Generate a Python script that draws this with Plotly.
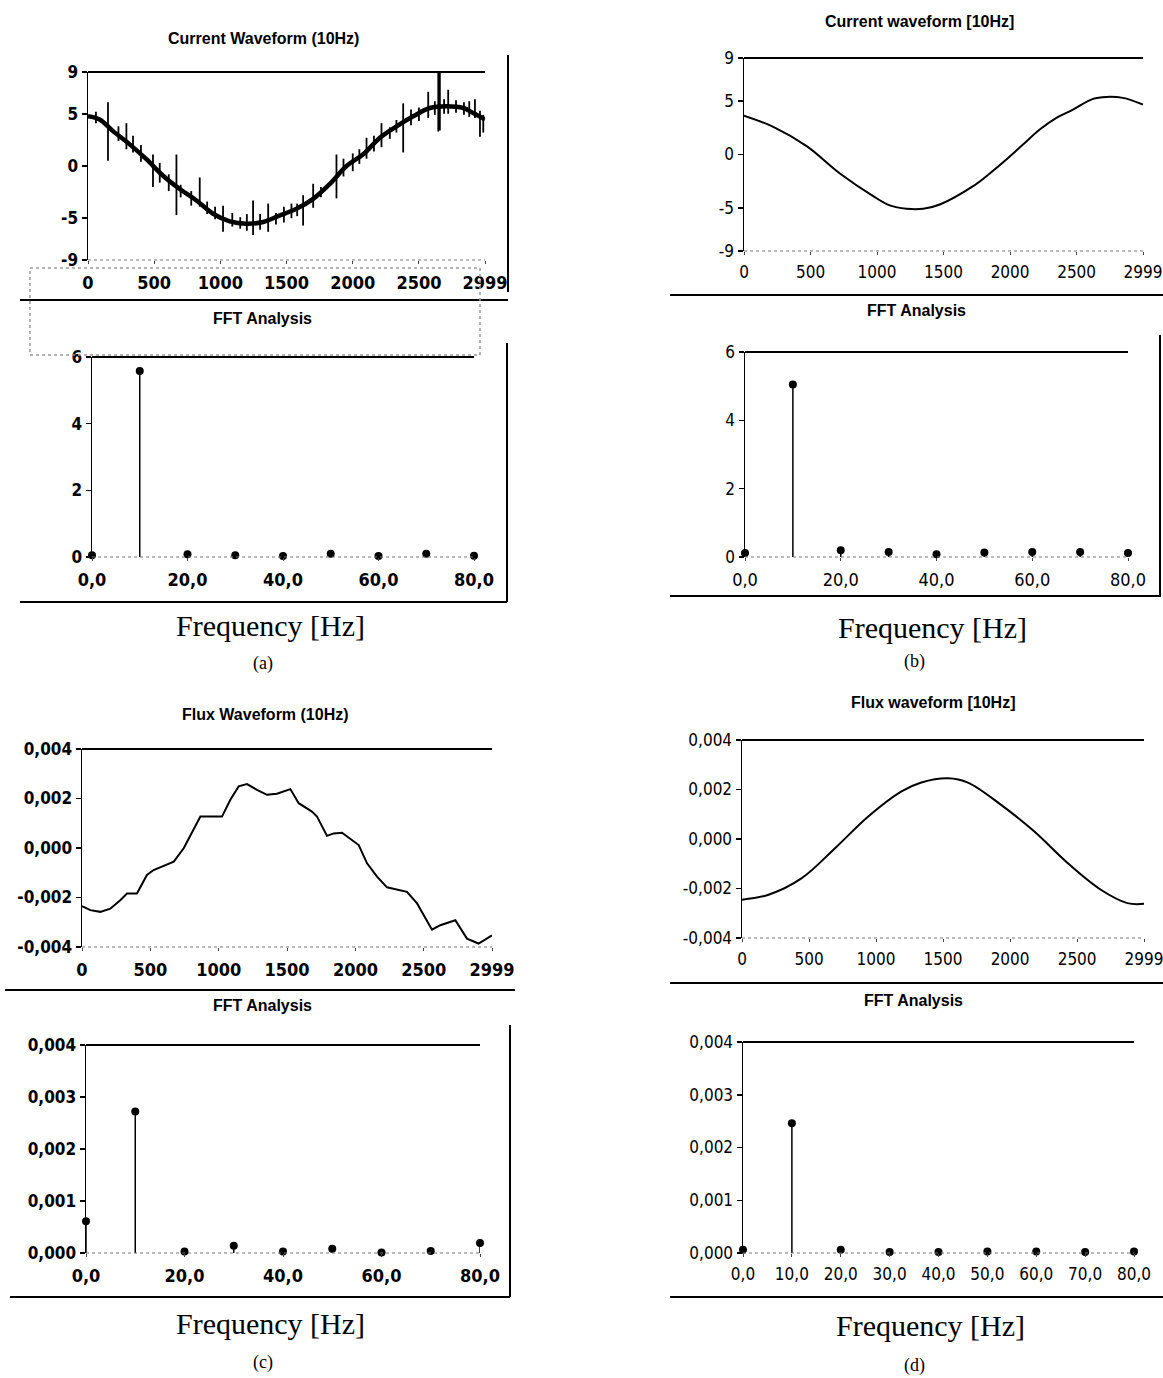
import plotly.graph_objects as go

W, H = 1163, 1378

# ---------------- data ----------------
# (a) measured current waveform: base curve + vertical noise spikes
a_wave_x = [0, 88, 189, 315, 441, 567, 693, 819, 945, 1071, 1197, 1323, 1449, 1575, 1701,
            1827, 1953, 2079, 2205, 2331, 2457, 2583, 2709, 2835, 2910, 2999]
a_wave_y = [4.76, 4.45, 3.34, 2.07, 0.65, -0.93, -2.2, -3.3, -4.57, -5.3, -5.52, -5.36, -4.73,
            -4.1, -3.15, -1.72, 0.0, 1.12, 2.7, 3.8, 4.76, 5.55, 5.71, 5.55, 5.07, 4.45]
a_spike_x = [60, 151, 230, 290, 340, 400, 491, 542, 610, 668, 700, 780, 844, 900, 960, 1020,
             1090, 1150, 1200, 1247, 1300, 1361, 1420, 1480, 1537, 1580, 1625, 1701, 1760,
             1877, 1930, 2000, 2050, 2104, 2160, 2217, 2280, 2330, 2381, 2440, 2500, 2570,
             2620, 2646, 2658, 2690, 2721, 2780, 2840, 2880, 2923, 2961, 2986]
a_spike_lo = [4.1, 0.5, 2.4, 1.6, 1.3, 0.4, -2.0, -1.6, -2.4, -4.7, -3.0, -3.8, -3.9, -4.6,
              -5.1, -6.3, -5.8, -6.0, -6.2, -6.6, -6.1, -6.3, -5.6, -5.4, -5.0, -4.8, -5.7,
              -4.0, -3.0, -3.1, -1.0, -0.5, 0.2, 0.7, 1.4, 1.8, 2.6, 3.2, 1.3, 3.9, 4.3, 4.6,
              4.9, 3.3, 3.4, 5.0, 5.0, 5.1, 4.9, 4.7, 4.6, 2.8, 3.2]
a_spike_hi = [5.2, 6.1, 3.8, 4.1, 2.9, 2.0, 1.1, 0.3, -0.8, 1.1, -1.8, -2.4, -1.1, -3.4, -3.9,
              -3.8, -4.5, -4.9, -4.6, -3.3, -4.6, -3.6, -4.5, -3.9, -3.6, -3.6, -2.8, -1.7,
              -2.0, 1.1, 0.7, 1.2, 1.6, 2.7, 2.9, 4.1, 3.7, 4.4, 6.0, 5.4, 5.6, 7.1, 6.2, 8.9,
              8.9, 6.4, 7.3, 6.3, 6.1, 6.2, 6.4, 5.3, 4.9]

# (b) simulated current waveform
b_wave_x = [0, 220, 471, 721, 971, 1096, 1222, 1347, 1472, 1722, 1847, 1972, 2097, 2223, 2348,
            2473, 2623, 2723, 2848, 2999]
b_wave_y = [3.63, 2.58, 0.78, -1.77, -3.88, -4.75, -5.06, -5.06, -4.66, -2.95, -1.77, -0.47,
            0.93, 2.33, 3.42, 4.19, 5.19, 5.37, 5.28, 4.66]

# (c) measured flux waveform
c_wave_x = [0, 61, 134, 207, 280, 329, 402, 475, 524, 671, 744, 817, 866, 1024, 1085, 1146, 1207,
            1280, 1353, 1426, 1524, 1585, 1682, 1719, 1792, 1841, 1902, 2024, 2085, 2158, 2231,
            2377, 2451, 2560, 2621, 2731, 2816, 2901, 2999]
c_wave_y = [-0.00235, -0.00251, -0.00258, -0.00245, -0.00211, -0.00184, -0.00184, -0.00109,
            -0.00089, -0.00055, -0.00001, 0.00073, 0.00127, 0.00127, 0.00195, 0.00249, 0.00258,
            0.00235, 0.00215, 0.00219, 0.00238, 0.00181, 0.00147, 0.00127, 0.00049, 0.00059,
            0.00062, 0.00012, -0.00062, -0.00116, -0.00159, -0.00177, -0.00224, -0.00330,
            -0.00312, -0.00292, -0.00366, -0.00386, -0.00353]

# (d) simulated flux waveform
d_wave_x = [0, 198, 446, 694, 942, 1190, 1338, 1537, 1685, 1933, 2181, 2429, 2677, 2875, 2999]
d_wave_y = [-0.00245, -0.00225, -0.00158, -0.00037, 0.00091, 0.00192, 0.00228, 0.00245,
            0.00228, 0.00138, 0.00030, -0.00097, -0.00205, -0.00259, -0.00262]

# FFT spectra
fft_freq = [0, 10, 20, 30, 40, 50, 60, 70, 80]
a_fft = [0.05, 5.58, 0.08, 0.05, 0.03, 0.10, 0.03, 0.10, 0.04]
b_fft = [0.12, 5.05, 0.20, 0.15, 0.08, 0.13, 0.15, 0.15, 0.12]
c_fft = [0.00061, 0.00272, 0.00003, 0.00014, 0.00003, 0.00008, 0.00001, 0.00004, 0.00019]
d_fft = [0.00006, 0.00246, 0.00006, 0.00002, 0.00002, 0.00003, 0.00003, 0.00002, 0.00003]

wave_ticks = [0, 500, 1000, 1500, 2000, 2500, 2999]
cur_yticks = [9, 5, 0, -5, -9]
cur_fft_yticks = [0, 2, 4, 6]
flux_yticks = [0.004, 0.002, 0.0, -0.002, -0.004]
flux_yticktext = ["0,004", "0,002", "0,000", "-0,002", "-0,004"]
flux_fft_yticks = [0.0, 0.001, 0.002, 0.003, 0.004]
flux_fft_yticktext = ["0,000", "0,001", "0,002", "0,003", "0,004"]
fft_ticks20 = [0, 20, 40, 60, 80]
fft_ticks10 = [0, 10, 20, 30, 40, 50, 60, 70, 80]

# ---------------- helpers ----------------
def X(px):
    return px / W

def Y(py):
    return 1 - py / H

def xn(i):
    return "x" if i == 1 else f"x{i}"

def yn(i):
    return "y" if i == 1 else f"y{i}"

TICKF = "Liberation Sans Narrow, Arial Narrow, DejaVu Sans Condensed, Liberation Sans, sans-serif"
TITLEF = "Liberation Sans, Arial, Helvetica, sans-serif"
SERIF = "Liberation Serif, Times New Roman, DejaVu Serif, serif"

fig = go.Figure()
layout = dict(width=W, height=H, autosize=False,
              margin=dict(l=0, r=0, t=0, b=0, pad=0, autoexpand=False), showlegend=False,
              plot_bgcolor="white", paper_bgcolor="white", hovermode=False)
shapes = []
annotations = []

def stems(freq, vals):
    xs, ys = [], []
    for f, v in zip(freq, vals):
        xs += [f, f, None]
        ys += [0, v, None]
    return xs, ys

def add_axes(i, xpx, ypx, xr, yr, xt, xtt, yt, ytt, bold, xsize=18):
    w = "bold" if bold else "normal"
    xk = "xaxis" if i == 1 else f"xaxis{i}"
    yk = "yaxis" if i == 1 else f"yaxis{i}"
    layout[xk] = dict(domain=[X(xpx[0]), X(xpx[1])], range=xr, anchor=yn(i), automargin=False,
                      showgrid=False, zeroline=False, showline=False,
                      tickmode="array", tickvals=xt, ticktext=xtt,
                      ticks="outside", ticklen=3, tickcolor="#444",
                      ticklabelstandoff=3, ticklabeloverflow="allow",
                      tickfont=dict(family=TICKF, size=xsize, color="black", weight=w))
    layout[yk] = dict(domain=[Y(ypx[1]), Y(ypx[0])], range=yr, anchor=xn(i), automargin=False,
                      showgrid=False, zeroline=False, showline=True,
                      linecolor="black", linewidth=1.5,
                      tickmode="array", tickvals=yt, ticktext=ytt,
                      ticks="outside", ticklen=5, tickwidth=1.5, tickcolor="black",
                      ticklabeloverflow="allow",
                      tickfont=dict(family=TICKF, size=17, color="black", weight=w))
    shapes.append(dict(type="line", xref=f"{xn(i)} domain", yref=f"{yn(i)} domain",
                       x0=0, x1=1, y0=1, y1=1, line=dict(color="black", width=2)))
    shapes.append(dict(type="line", xref=f"{xn(i)} domain", yref=f"{yn(i)} domain",
                       x0=0, x1=1, y0=0, y1=0, line=dict(color="#777", width=1, dash="dot")))

def title(text, x, y, size=16):
    annotations.append(dict(text=f"<b>{text}</b>", x=X(x), y=Y(y), xref="paper", yref="paper",
                            showarrow=False, xanchor="center", yanchor="middle",
                            font=dict(family=TITLEF, size=size, color="black")))

def caption(text, x, y, size):
    annotations.append(dict(text=text, x=X(x), y=Y(y), xref="paper", yref="paper",
                            showarrow=False, xanchor="center", yanchor="middle",
                            font=dict(family=SERIF, size=size, color="black")))

def hline(x0, x1, y, width=2, color="black", dash="solid"):
    shapes.append(dict(type="line", xref="paper", yref="paper", x0=X(x0), x1=X(x1),
                       y0=Y(y), y1=Y(y), line=dict(color=color, width=width, dash=dash)))

def vline(x, y0, y1, width=2, color="black", dash="solid"):
    shapes.append(dict(type="line", xref="paper", yref="paper", x0=X(x), x1=X(x),
                       y0=Y(y0), y1=Y(y1), line=dict(color=color, width=width, dash=dash)))

def add_line(i, x, y, width, shape="linear"):
    fig.add_trace(go.Scatter(x=x, y=y, mode="lines", xaxis=xn(i), yaxis=yn(i),
                             line=dict(color="black", width=width, shape=shape)))

def add_fft(i, vals):
    xs, ys = stems(fft_freq, vals)
    add_line(i, xs, ys, 1.5)
    fig.add_trace(go.Scatter(x=fft_freq, y=vals, mode="markers", xaxis=xn(i), yaxis=yn(i),
                             cliponaxis=False, marker=dict(color="black", size=8)))

fmt_fft = lambda t: [f"{v},0" for v in t]
wave_tt = [str(v) for v in wave_ticks]

# ---------- (a) ----------
add_axes(1, (88, 485), (72, 260), [0, 2999], [-9, 9], wave_ticks, wave_tt,
         cur_yticks, [str(v) for v in cur_yticks], True)
add_line(1, a_wave_x, a_wave_y, 4.5, "spline")
sx, sy = [], []
for xx, lo, hi in zip(a_spike_x, a_spike_lo, a_spike_hi):
    sx += [xx, xx, None]
    sy += [lo, hi, None]
add_line(1, sx, sy, 1.8)

add_axes(2, (92, 474), (357, 557), [0, 80], [0, 6], fft_ticks20, fmt_fft(fft_ticks20),
         cur_fft_yticks, [str(v) for v in cur_fft_yticks], True)
add_fft(2, a_fft)

title("Current Waveform (10Hz)", 263, 38)
title("FFT Analysis", 262, 319)
caption("Frequency [Hz]", 270, 625, 30)
caption("(a)", 263, 663, 18)
vline(508, 55, 292)
hline(20, 508, 300, width=2)
vline(507, 343, 602)
hline(20, 507, 602, width=2)
shapes.append(dict(type="rect", xref="paper", yref="paper", x0=X(30), x1=X(480),
                   y0=Y(355), y1=Y(268), line=dict(color="#999", width=1.5, dash="dot")))

# ---------- (b) ----------
add_axes(3, (744, 1143), (58, 251), [0, 2999], [-9, 9], wave_ticks, wave_tt,
         cur_yticks, [str(v) for v in cur_yticks], False, xsize=17)
add_line(3, b_wave_x, b_wave_y, 2, "spline")

add_axes(4, (745, 1128), (352, 557), [0, 80], [0, 6], fft_ticks20, fmt_fft(fft_ticks20),
         cur_fft_yticks, [str(v) for v in cur_fft_yticks], False)
add_fft(4, b_fft)

title("Current waveform [10Hz]", 920, 22)
title("FFT Analysis", 916, 311)
caption("Frequency [Hz]", 932, 627, 30)
caption("(b)", 914, 661, 18)
hline(670, 1163, 295, width=2)
vline(1160, 335, 597)
hline(670, 1160, 596, width=2)

# ---------- (c) ----------
add_axes(5, (82, 492), (749, 947), [0, 2999], [-0.004, 0.004], wave_ticks, wave_tt,
         flux_yticks, flux_yticktext, True)
add_line(5, c_wave_x, c_wave_y, 2)

add_axes(6, (86, 480), (1045, 1253), [0, 80], [0, 0.004], fft_ticks20, fmt_fft(fft_ticks20),
         flux_fft_yticks, flux_fft_yticktext, True)
add_fft(6, c_fft)

title("Flux Waveform (10Hz)", 265, 714)
title("FFT Analysis", 262, 1005)
caption("Frequency [Hz]", 270, 1323, 30)
caption("(c)", 263, 1362, 18)
hline(5, 515, 990, width=2)
vline(510, 1025, 1297)
hline(10, 510, 1297, width=2)

# ---------- (d) ----------
add_axes(7, (742, 1144), (740, 938), [0, 2999], [-0.004, 0.004], wave_ticks, wave_tt,
         flux_yticks, flux_yticktext, False, xsize=17)
add_line(7, d_wave_x, d_wave_y, 2, "spline")

add_axes(8, (743, 1134), (1042, 1253), [0, 80], [0, 0.004], fft_ticks10, fmt_fft(fft_ticks10),
         flux_fft_yticks, flux_fft_yticktext, False, xsize=17)
add_fft(8, d_fft)

title("Flux waveform [10Hz]", 933, 702)
title("FFT Analysis", 913, 1000)
caption("Frequency [Hz]", 930, 1325, 30)
caption("(d)", 914, 1365, 18)
hline(670, 1163, 983, width=2)
hline(670, 1163, 1297, width=2)

layout["shapes"] = shapes
layout["annotations"] = annotations
fig.update_layout(**layout)
# remove the default page margin so the figure sits at the window's top-left corner
fig.write_html("out.html", config={"displayModeBar": False, "staticPlot": True},
               post_script="document.body.style.margin='0';document.body.style.overflow='hidden';")
